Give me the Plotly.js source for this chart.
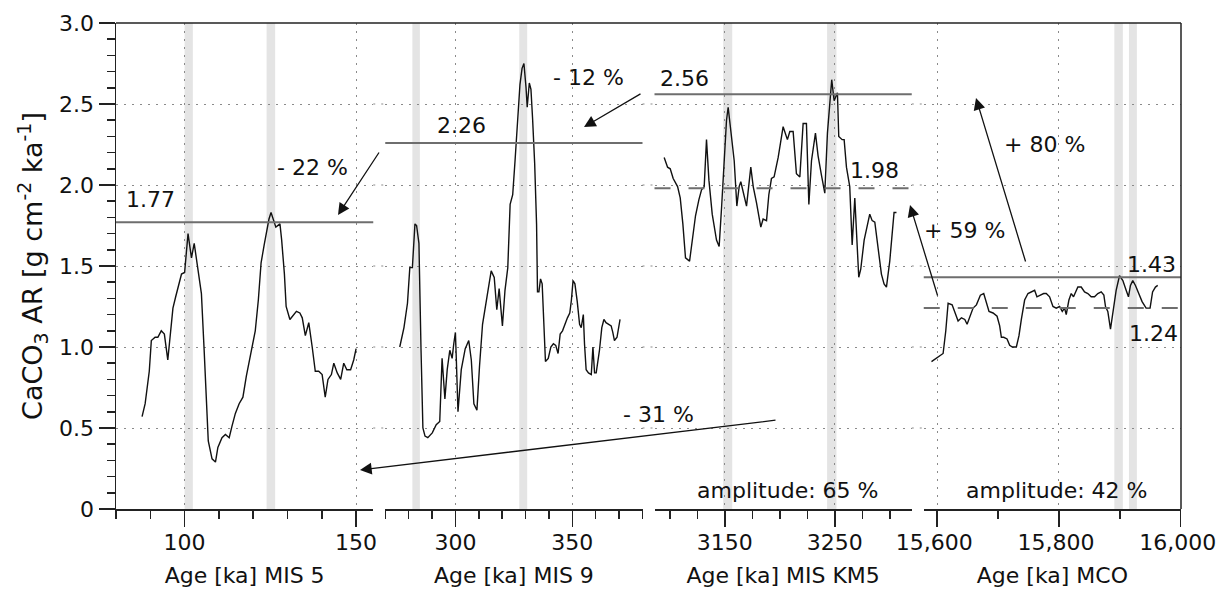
<!DOCTYPE html>
<html><head><meta charset="utf-8">
<script src="https://cdn.plot.ly/plotly-3.0.1.min.js"></script>
<style>html,body{margin:0;padding:0;background:#fff}</style>
</head><body><div id="chart" style="width:1217px;height:595px"></div>
<script>
// ---------------- data ----------------
const p1Age = [87.6,88.5,89.7,90.3,91.4,92.2,93.2,94.1,95.1,95.9,96.6,97.4,98.4,99.1,100.0,100.5,101.0,101.4,102.0,102.8,103.5,104.2,104.9,105.7,106.3,106.9,108.0,109.0,109.7,110.9,111.9,113.0,113.8,114.8,115.9,117.0,118.0,119.6,120.6,121.5,122.3,123.2,123.9,124.6,125.2,125.9,126.6,127.8,128.3,129.1,129.6,130.7,131.7,132.6,133.6,134.3,135.2,136.2,137.2,138.1,139.1,140.1,141.0,141.8,142.8,143.5,144.5,145.5,146.4,147.3,148.4,149.3,150.0];
const p1AR = [0.57,0.65,0.85,1.04,1.06,1.06,1.10,1.08,0.92,1.10,1.24,1.31,1.39,1.45,1.46,1.56,1.70,1.64,1.55,1.64,1.54,1.43,1.33,0.98,0.69,0.42,0.31,0.29,0.38,0.44,0.46,0.44,0.51,0.59,0.65,0.69,0.82,0.98,1.10,1.29,1.52,1.63,1.72,1.79,1.83,1.79,1.74,1.76,1.66,1.45,1.25,1.17,1.20,1.22,1.21,1.18,1.07,1.15,1.00,0.85,0.85,0.83,0.69,0.80,0.83,0.90,0.84,0.80,0.90,0.86,0.86,0.92,0.99];

const p2Age = [276.2,278.0,279.5,280.5,281.6,282.7,283.4,284.4,285.3,286.1,287.0,288.2,290.1,291.8,293.3,294.3,295.5,296.5,297.6,298.6,299.3,300.0,300.4,301.1,302.5,304.2,305.7,306.8,307.9,309.2,310.3,311.6,313.5,315.3,316.6,317.7,318.7,320.1,321.2,322.4,323.4,324.5,325.5,326.5,327.6,328.5,329.3,330.2,330.7,331.6,332.3,333.0,333.9,334.7,335.1,335.7,336.4,337.1,338.0,338.5,339.7,340.8,341.9,342.9,343.9,344.8,345.8,346.7,347.9,348.9,349.6,350.3,351.1,352.1,353.1,353.8,354.7,355.2,355.9,356.9,358.1,358.8,359.5,360.2,361.6,362.6,363.5,364.4,365.4,366.6,367.3,368.0,369.1,370.4];
const p2AR = [1.00,1.12,1.27,1.49,1.49,1.76,1.75,1.64,0.98,0.50,0.45,0.44,0.47,0.52,0.54,0.93,0.68,0.86,0.98,0.93,1.02,1.09,0.92,0.60,0.86,0.99,1.04,0.92,0.65,0.61,0.88,1.14,1.31,1.47,1.43,1.23,1.36,1.13,1.35,1.49,1.88,1.94,2.15,2.37,2.62,2.72,2.75,2.60,2.48,2.63,2.59,2.41,2.13,1.76,1.34,1.34,1.42,1.39,1.12,0.91,0.93,1.00,1.02,1.01,0.96,1.08,1.10,1.14,1.18,1.21,1.29,1.41,1.39,1.28,1.14,1.12,1.20,1.02,0.86,0.84,0.83,1.00,0.84,0.84,0.98,1.12,1.17,1.15,1.14,1.13,1.09,1.04,1.06,1.17];

const p3Age = [3094.8,3097.9,3100.3,3103.0,3107.0,3109.4,3111.8,3114.2,3117.9,3120.3,3123.3,3126.4,3128.8,3131.2,3133.3,3135.5,3138.5,3142.4,3144.8,3147.0,3149.4,3151.5,3153.0,3155.5,3158.5,3160.9,3163.0,3164.5,3166.7,3169.7,3173.6,3175.8,3178.8,3182.7,3184.8,3187.9,3190.0,3192.4,3194.8,3198.5,3203.0,3206.9,3209.1,3212.1,3215.1,3218.2,3221.2,3224.2,3226.4,3228.8,3232.4,3234.8,3237.9,3240.9,3243.3,3247.2,3249.4,3252.4,3253.6,3256.7,3258.5,3260.6,3263.6,3265.8,3268.2,3269.7,3271.8,3273.6,3276.7,3281.8,3284.0,3286.4,3289.4,3292.4,3294.8,3297.0,3300.0,3302.1,3303.9,3306.1];
const p3AR = [2.17,2.11,2.10,2.04,1.99,1.92,1.76,1.55,1.53,1.66,1.81,1.91,1.97,1.99,2.28,2.03,1.82,1.66,1.62,1.86,2.17,2.40,2.48,2.32,2.15,1.87,1.99,2.02,1.95,1.87,2.11,1.99,1.89,1.74,1.79,1.78,1.94,2.04,2.05,2.17,2.36,2.28,2.33,2.33,2.07,2.05,2.38,2.38,1.88,2.15,2.32,2.18,2.06,1.95,2.32,2.65,2.52,2.57,2.30,2.28,2.28,2.11,1.99,1.63,1.92,1.72,1.43,1.48,1.66,1.82,1.78,1.77,1.62,1.45,1.39,1.37,1.53,1.72,1.83,1.83];

const p4Age = [15590.7,15601.6,15609.8,15614.2,15618.0,15624.6,15629.0,15634.4,15639.9,15645.4,15649.2,15654.6,15659.0,15664.5,15671.0,15676.5,15680.9,15685.2,15691.8,15698.4,15702.7,15705.5,15709.3,15714.8,15719.1,15723.5,15730.1,15734.4,15738.3,15743.7,15749.2,15754.6,15760.1,15763.9,15769.4,15774.9,15779.2,15784.7,15790.2,15795.6,15801.1,15805.5,15809.3,15812.0,15816.4,15820.2,15824.0,15828.4,15831.1,15836.6,15842.1,15847.5,15853.0,15858.5,15863.9,15869.4,15873.8,15876.5,15880.3,15884.7,15888.5,15894.0,15899.5,15905.0,15910.4,15914.2,15917.5,15921.3,15925.7,15931.1,15936.6,15943.2,15949.7,15953.8,15958.5,15962.3];
const p4AR = [0.91,0.94,0.96,1.10,1.27,1.26,1.21,1.16,1.18,1.17,1.14,1.20,1.24,1.26,1.32,1.33,1.27,1.22,1.21,1.19,1.13,1.06,1.06,1.05,1.01,1.00,1.00,1.07,1.17,1.29,1.33,1.34,1.35,1.31,1.32,1.33,1.33,1.31,1.25,1.24,1.25,1.22,1.24,1.20,1.29,1.33,1.31,1.35,1.37,1.37,1.34,1.33,1.31,1.31,1.33,1.34,1.32,1.25,1.22,1.11,1.20,1.35,1.44,1.41,1.35,1.31,1.38,1.41,1.38,1.33,1.28,1.24,1.24,1.34,1.37,1.38];

// interglacial / warm-event bands (ka)
const p1Bands = [[100.0,102.4],[123.9,126.4]];
const p2Bands = [[281.6,284.8],[327.3,330.7]];
const p3Bands = [[3148.5,3156.7],[3243.0,3251.5]];
const p4Bands = [[15891,15905],[15915,15928]];

// maxima (solid) and means (dashed) per panel
const maxLevels  = [1.77, 2.26, 2.56, 1.43];
const meanLevels = [null, null, 1.98, 1.24];

const panelTitles = ['Age [ka] MIS 5','Age [ka] MIS 9','Age [ka] MIS KM5','Age [ka] MCO'];
const yTickVals = [0, 0.5, 1.0, 1.5, 2.0, 2.5, 3.0];
const yTickText = ['0','0.5','1.0','1.5','2.0','2.5','3.0'];
const changeLabels = ['- 22 %','- 12 %','- 31 %','+ 59 %','+ 80 %'];
const amplitudeLabels = ['amplitude: 65 %','amplitude: 42 %'];

// ---------------- layout geometry ----------------
const FONT = 'DejaVu Sans';
const FS = 22;
const L = 116, R = 36, T = 23, B = 86, WID = 1217, HEI = 595;
const PW = WID - L - R, PH = HEI - T - B;
const GAP = 12;
const pw = (PW - 3 * GAP) / 4;
const domains = [0,1,2,3].map(i => [(i*(pw+GAP))/PW, (i*(pw+GAP)+pw)/PW]);
const X = px => (px - L) / PW;
const Y = py => (T + PH - py) / PH;

const ranges = [[80,155],[270,380],[3086,3320],[15578,16000.5]];
const majors = [{dtick:50,tick0:0},{dtick:50,tick0:0},{dtick:100,tick0:50},{dtick:200,tick0:0}];
const minors = [10,10,25,100];

const AX = '#222';
const GRID = '#8a8a8a';
const GDASH = '2px,6px';

const layout = {
  width: WID, height: HEI,
  margin: {l:L, r:R, t:T, b:B, pad:0},
  paper_bgcolor: '#fff', plot_bgcolor: 'rgba(0,0,0,0)',
  showlegend: false,
  font: {family: FONT, size: FS, color: '#111'},
  shapes: [], annotations: []
};

const xs = ['x','x2','x3','x4'];
xs.forEach((id, i) => {
  const key = i === 0 ? 'xaxis' : 'xaxis' + (i+1);
  layout[key] = {
    domain: domains[i], range: ranges[i], anchor: 'y',
    showline: true, linecolor: AX, linewidth: 1.5,
    ticks: 'outside', ticklen: 16, tickwidth: 1.5, tickcolor: AX,
    tickmode: 'linear', dtick: majors[i].dtick, tick0: majors[i].tick0,
    tickformat: i === 3 ? ',d' : 'd',
    ticklabeloverflow: 'allow',
    ticklabelstandoff: -3,
    ticklabelshift: i === 3 ? -3 : 0,
    tickfont: {family: FONT, size: FS, color: '#111'},
    minor: {dtick: minors[i], tick0: 0, ticks: 'outside', ticklen: 8, tickwidth: 1.5, tickcolor: AX, showgrid: false},
    showgrid: true, gridcolor: GRID, gridwidth: 1, griddash: GDASH,
    zeroline: false, fixedrange: true,
    title: {text: panelTitles[i], font: {family: FONT, size: FS, color: '#111'}, standoff: 13}
  };
});
layout.yaxis = {
  domain: [0,1], range: [0,3], anchor: 'x',
  showline: true, linecolor: AX, linewidth: 1.5,
  ticks: 'outside', ticklen: 16, tickwidth: 1.5, tickcolor: AX,
  tickmode: 'array', tickvals: yTickVals, ticktext: yTickText,
  tickfont: {family: FONT, size: FS, color: '#111'},
  minor: {dtick: 0.1, tick0: 0, ticks: 'outside', ticklen: 8, tickwidth: 1.5, tickcolor: AX, showgrid: false},
  showgrid: true, gridcolor: GRID, gridwidth: 1, griddash: GDASH,
  zeroline: false, fixedrange: true,
  title: {text: 'CaCO<sub>3</sub> AR [g cm<sup>-2</sup> ka<sup>-1</sup>]', font: {family: FONT, size: 27, color: '#111'}, standoff: 8}
};

// grid lines across the gaps between panels
yTickVals.filter(v => v > 0 && v < 3).forEach(v => {
  for (let i = 0; i < 3; i++) {
    layout.shapes.push({type:'line', xref:'paper', yref:'y', x0: domains[i][1], x1: domains[i+1][0], y0: v, y1: v,
      line:{color: GRID, width: 1, dash: GDASH}, layer:'below'});
  }
});

// shaded bands
[p1Bands, p2Bands, p3Bands, p4Bands].forEach((bands, i) => {
  bands.forEach(b => layout.shapes.push({type:'rect', xref: xs[i], yref:'y domain', x0: b[0], x1: b[1], y0: 0, y1: 1,
    fillcolor:'#e4e4e4', line:{width:0}, layer:'below'}));
});

// max and mean level lines
maxLevels.forEach((v, i) => layout.shapes.push({type:'line', xref: xs[i] + ' domain', yref:'y', x0:0, x1:1, y0:v, y1:v,
  line:{color:'#6e6e6e', width:2}, layer:'above'}));
meanLevels.forEach((v, i) => { if (v !== null) layout.shapes.push({type:'line', xref: xs[i] + ' domain', yref:'y', x0:0, x1:1, y0:v, y1:v,
  line:{color:'#6e6e6e', width:2, dash:'16px,18px'}, layer:'above'}); });

// frame: top and right border
layout.shapes.push({type:'line', xref:'paper', yref:'paper', x0:0, x1:1, y0:1, y1:1, line:{color:AX, width:1.5}});
layout.shapes.push({type:'line', xref:'paper', yref:'paper', x0:1, x1:1, y0:0, y1:1, line:{color:AX, width:1.5}});

// text labels
function label(text, px, py) {
  layout.annotations.push({text, xref:'paper', yref:'paper', x: X(px), y: Y(py), xanchor:'center', yanchor:'middle',
    showarrow:false, font:{family: FONT, size: FS, color:'#111'}});
}
label(maxLevels[0].toFixed(2), 150, 200);
label(maxLevels[1].toFixed(2), 461, 126);
label(maxLevels[2].toFixed(2), 684, 78);
label(meanLevels[2].toFixed(2), 874, 170);
label(maxLevels[3].toFixed(2), 1151, 264);
label(meanLevels[3].toFixed(2), 1153, 333);
label(changeLabels[0], 312, 167);
label(changeLabels[1], 588, 77);
label(changeLabels[2], 658, 414);
label(changeLabels[3], 964, 230);
label(changeLabels[4], 1044, 144);
label(amplitudeLabels[0], 787, 490);
label(amplitudeLabels[1], 1056, 490);

// arrows (tip, tail in pixels)
function arrow(tipx, tipy, tailx, taily) {
  layout.annotations.push({text:'', xref:'paper', yref:'paper', x: X(tipx), y: Y(tipy), ax: tailx - tipx, ay: taily - tipy,
    axref:'pixel', ayref:'pixel', showarrow:true, arrowhead:2, arrowsize:1.8, arrowwidth:1.3, arrowcolor:'#111', standoff:0});
}
arrow(338, 215, 380, 151);
arrow(584, 127, 642, 93);
arrow(360, 470, 777, 420);
arrow(910, 205, 938, 297);
arrow(976, 98, 1026, 263);

// traces
const series = [[p1Age,p1AR],[p2Age,p2AR],[p3Age,p3AR],[p4Age,p4AR]];
const data = series.map((s, i) => ({
  type:'scatter', mode:'lines', x: s[0], y: s[1], xaxis: xs[i], yaxis:'y',
  line:{color:'#111', width:1.4}, hoverinfo:'skip'
}));

Plotly.newPlot('chart', data, layout, {staticPlot:true, displayModeBar:false});
</script></body></html>
